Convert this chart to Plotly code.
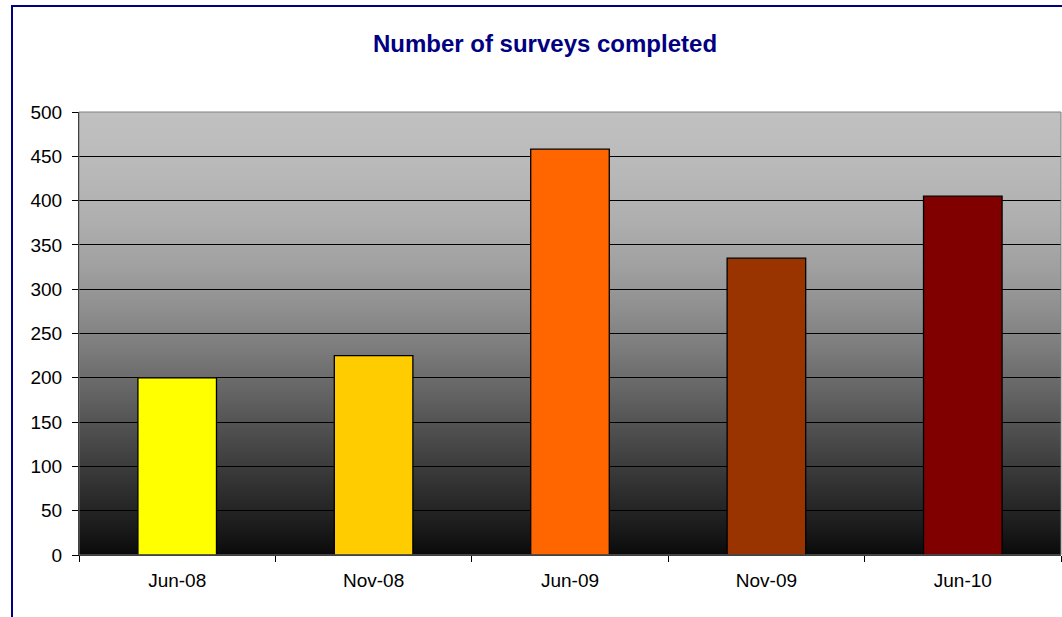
import base64
import struct
import zlib

import plotly.graph_objects as go

# ---- data ----
categories = ["Jun-08", "Nov-08", "Jun-09", "Nov-09", "Jun-10"]
surveys = [200, 225, 458, 335, 405]
bar_colors = ["#FFFF00", "#FFCC00", "#FF6600", "#993300", "#800000"]
y_ticks = [0, 50, 100, 150, 200, 250, 300, 350, 400, 450, 500]
title_text = "Number of surveys completed"

# background gradient stops (fraction from bottom, gray level)
grad_pos = [0.0, 0.05, 0.15, 0.25, 0.35, 0.45, 0.55, 0.65, 0.75, 0.85, 0.95, 1.0]
grad_val = [10, 24, 48, 72, 96, 120, 142, 160, 174, 183, 190, 192]

# ---- layout geometry ----
W, H = 1062, 617
ML, MR, MT, MB = 79, 1, 112, 62
PW = W - ML - MR
PH = H - MT - MB


def gray_at(f):
    for i in range(len(grad_pos) - 1):
        if grad_pos[i] <= f <= grad_pos[i + 1]:
            t = (f - grad_pos[i]) / (grad_pos[i + 1] - grad_pos[i])
            return int(round(grad_val[i] + t * (grad_val[i + 1] - grad_val[i])))
    return grad_val[-1]


def gradient_png(rows):
    raw = b""
    for r in range(rows):
        f = 1 - r / (rows - 1)
        g = gray_at(f)
        raw += b"\x00" + bytes([g, g, g]) * 2
    def chunk(tag, data):
        c = struct.pack(">I", len(data)) + tag + data
        return c + struct.pack(">I", zlib.crc32(tag + data) & 0xFFFFFFFF)
    png = b"\x89PNG\r\n\x1a\n"
    png += chunk(b"IHDR", struct.pack(">IIBBBBB", 2, rows, 8, 2, 0, 0, 0))
    png += chunk(b"IDAT", zlib.compress(raw))
    png += chunk(b"IEND", b"")
    return "data:image/png;base64," + base64.b64encode(png).decode()


fig = go.Figure(
    go.Bar(
        x=categories,
        y=surveys,
        marker=dict(color=bar_colors, line=dict(color="#000000", width=1.3)),
        hoverinfo="x+y",
    )
)

font_family = "Liberation Sans, Arial, sans-serif"

fig.update_layout(
    width=W,
    height=H,
    margin=dict(l=ML, r=MR, t=MT, b=MB, pad=0),
    paper_bgcolor="white",
    plot_bgcolor="rgba(0,0,0,0)",
    bargap=0.6,
    showlegend=False,
    font=dict(family=font_family, size=19, color="black"),
    title=dict(
        text=title_text,
        font=dict(family=font_family, size=24, color="#000080", weight="bold"),
        x=545 / W,
        xanchor="center",
        xref="container",
        y=1 - 44 / H,
        yanchor="middle",
        yref="container",
    ),
    images=[
        dict(
            source=gradient_png(PH),
            xref="paper",
            yref="paper",
            x=0,
            y=1,
            sizex=1,
            sizey=1,
            sizing="stretch",
            xanchor="left",
            yanchor="top",
            layer="below",
        )
    ],
    shapes=[
        # outer navy frame (cropped at right/bottom)
        dict(
            type="rect",
            xref="paper",
            yref="paper",
            x0=(12 - ML) / PW,
            x1=1.1,
            y0=-0.3,
            y1=(H - MB - 6) / PH,
            line=dict(color="#000080", width=2),
            fillcolor="rgba(0,0,0,0)",
            layer="below",
        ),
        # plot area border
        dict(
            type="rect",
            xref="paper",
            yref="paper",
            x0=0,
            x1=1,
            y0=0,
            y1=1,
            line=dict(color="#808080", width=1),
            fillcolor="rgba(0,0,0,0)",
            layer="above",
        ),
    ],
)

fig.update_xaxes(
    type="category",
    tickson="boundaries",
    ticks="outside",
    ticklen=6,
    tickcolor="black",
    tickwidth=1,
    showline=True,
    linecolor="black",
    linewidth=1,
    showgrid=False,
    ticklabelstandoff=8,
)
fig.update_yaxes(
    range=[0, 500],
    tickvals=y_ticks,
    ticks="outside",
    ticklen=6,
    tickcolor="black",
    tickwidth=1,
    showline=True,
    linecolor="black",
    linewidth=1,
    showgrid=True,
    gridcolor="black",
    gridwidth=1,
    zeroline=False,
    ticklabelstandoff=6,
)

fig.write_html(
    "out.html",
    config={"displayModeBar": False},
    post_script="document.body.style.margin='0';document.body.style.overflow='hidden';",
)
